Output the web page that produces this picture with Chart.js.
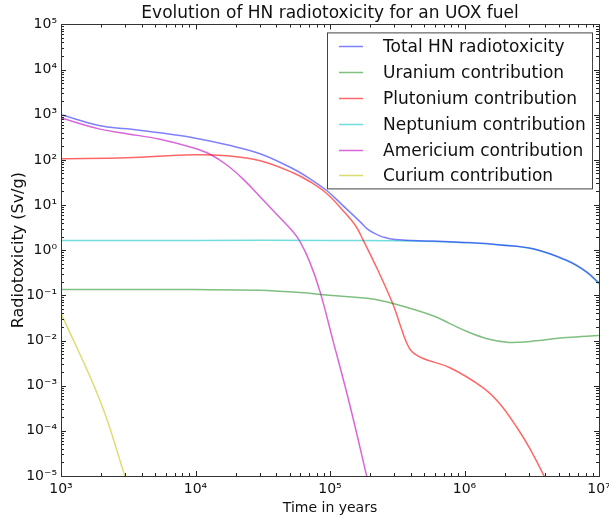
<!DOCTYPE html>
<html>
<head>
<meta charset="utf-8">
<title>Evolution of HN radiotoxicity for an UOX fuel</title>
<script src="https://cdn.jsdelivr.net/npm/chart.js@4.4.0/dist/chart.umd.min.js"></script>
<style>
  html, body { margin: 0; padding: 0; background: #fff; }
</style>
</head>
<body>
<canvas id="radiotox" width="609" height="517"></canvas>
<script>
// values: time in years, radiotoxicity in Sv/g
var totalYears = [1000, 1950, 3090, 5440, 9570, 17100, 30200, 53100, 71000, 94900, 125000, 167000, 188000, 216000, 249000, 303000, 583000, 1000000, 1850000, 3300000, 5800000, 8000000, 10000000];
var totalTox   = [1000, 569, 487, 398, 309, 216, 137, 63.5, 38, 20.7, 9.7, 4.3, 3.0, 2.32, 1.95, 1.72, 1.59, 1.49, 1.31, 1.06, 0.59, 0.34, 0.19];

var uraniumYears = [1000, 9570, 30200, 59900, 98400, 195000, 294000, 583000, 780000, 1045000, 1470000, 2070000, 2590000, 3230000, 5780000, 10000000];
var uraniumTox   = [0.135, 0.134, 0.13, 0.115, 0.1, 0.085, 0.066, 0.0355, 0.0237, 0.0158, 0.011, 0.0092, 0.0092, 0.0097, 0.0116, 0.0129];

var plutoniumYears = [1000, 3090, 9570, 17100, 30200, 53100, 71000, 94900, 125000, 155000, 176000, 228000, 293000, 330000, 368000, 406000, 492000, 779000, 1370000, 1830000, 2460000, 3070000, 3950000, 4310000];
var plutoniumTox   = [106, 111, 130, 123, 95.5, 51.9, 32.8, 17.8, 7.5, 3.47, 1.70, 0.35, 0.065, 0.0236, 0.0095, 0.0057, 0.004, 0.0025, 0.00091, 0.0004, 0.000117, 0.00004, 0.0000093, 0.0000048];

var neptuniumYears = [1000, 10000, 100000, 300000, 600000, 1000000, 1850000, 3300000, 5800000, 8000000, 10000000];
var neptuniumTox   = [1.65, 1.65, 1.65, 1.62, 1.55, 1.47, 1.3, 1.05, 0.58, 0.33, 0.18];

var americiumYears = [1000, 1950, 3090, 5440, 9570, 12800, 17100, 22500, 30200, 40400, 53100, 59900, 71000, 84300, 105300, 140800, 188400, 198000];
var americiumTox   = [850, 480, 380, 286, 185, 133, 77, 38, 15.3, 6.1, 2.56, 1.54, 0.53, 0.121, 0.00995, 0.00036, 0.0000093, 0.0000048];

var curiumYears = [1000, 1950, 3000, 3200];
var curiumTox   = [0.04, 0.00047, 0.0000095, 0.000005];

var seriesNames  = ["Total HN radiotoxicity", "Uranium contribution", "Plutonium contribution", "Neptunium contribution", "Americium contribution", "Curium contribution"];
var seriesColors = ["rgba(0,0,255,0.5)", "rgba(0,128,0,0.5)", "rgba(255,0,0,0.6)", "rgba(0,191,191,0.55)", "rgba(191,0,191,0.6)", "rgba(191,191,0,0.55)"];

var xDecades = [1e3, 1e4, 1e5, 1e6, 1e7];
var yDecades = [1e-5, 1e-4, 1e-3, 1e-2, 1e-1, 1e0, 1e1, 1e2, 1e3, 1e4, 1e5];

function toPoints(xs, ys) {
    var pts = [];
    for (var i = 0; i < xs.length; i++) {
        pts.push({x: xs[i], y: ys[i]});
    }
    return pts;
}

var supDigits = {"0":"⁰","1":"¹","2":"²","3":"³","4":"⁴","5":"⁵","6":"⁶","7":"⁷","8":"⁸","9":"⁹","-":"⁻"};
function powLabel(v) {
    var e = String(Math.round(Math.log10(v)));
    var s = "";
    for (var i = 0; i < e.length; i++) s += supDigits[e[i]];
    return "10" + s;
}

// frame, inward minor/major ticks on all four sides, and the boxed legend
var frameLegend = {
    id: 'frameLegend',
    afterDatasetsDraw: function(chart) {
        var ctx = chart.ctx, a = chart.chartArea;
        var xs = chart.scales.x, ys = chart.scales.y;
        ctx.save();
        ctx.strokeStyle = '#222';
        ctx.lineWidth = 1;
        ctx.beginPath();
        for (var e = 3; e <= 7; e++) {
            for (var m = 1; m < 10; m++) {
                var v = m * Math.pow(10, e);
                if (v > 1e7) break;
                var p = Math.round(xs.getPixelForValue(v)) + 0.5;
                var len = m == 1 ? 5 : 3;
                ctx.moveTo(p, a.bottom); ctx.lineTo(p, a.bottom - len);
                ctx.moveTo(p, a.top); ctx.lineTo(p, a.top + len);
            }
        }
        for (var e2 = -5; e2 <= 5; e2++) {
            for (var m2 = 1; m2 < 10; m2++) {
                var v2 = m2 * Math.pow(10, e2);
                if (v2 > 1e5) break;
                var q = Math.round(ys.getPixelForValue(v2)) + 0.5;
                var len2 = m2 == 1 ? 5 : 3;
                ctx.moveTo(a.left, q); ctx.lineTo(a.left + len2, q);
                ctx.moveTo(a.right, q); ctx.lineTo(a.right - len2, q);
            }
        }
        ctx.stroke();
        ctx.strokeStyle = '#333';
        ctx.strokeRect(Math.round(a.left) + 0.5, Math.round(a.top) + 0.5, Math.round(a.right - a.left), Math.round(a.bottom - a.top));

        // legend box in the upper right
        var bx = a.right - 272, by = a.top + 8, bw = 265, bh = 156;
        ctx.fillStyle = '#fff';
        ctx.fillRect(bx, by, bw, bh);
        ctx.strokeStyle = '#444';
        ctx.strokeRect(bx + 0.5, by + 0.5, bw, bh);
        ctx.font = '17px "DejaVu Sans"';
        ctx.textBaseline = 'middle';
        ctx.textAlign = 'left';
        chart.data.datasets.forEach(function(ds, i) {
            var ry = Math.round(by + 14 + 25.8 * i) + 0.5;
            ctx.strokeStyle = ds.borderColor;
            ctx.lineWidth = 1.5;
            ctx.beginPath();
            ctx.moveTo(bx + 12, ry);
            ctx.lineTo(bx + 36, ry);
            ctx.stroke();
            ctx.fillStyle = '#111';
            ctx.fillText(ds.label, bx + 56, ry + 1);
        });
        ctx.restore();
    }
};

var ctx = document.getElementById("radiotox").getContext('2d');
var allYears = [totalYears, uraniumYears, plutoniumYears, neptuniumYears, americiumYears, curiumYears];
var allTox = [totalTox, uraniumTox, plutoniumTox, neptuniumTox, americiumTox, curiumTox];

var chart = new Chart(ctx, {
    type: 'line',
    data: {
        datasets: seriesNames.map(function(name, i) {
            return {
                label: name,
                data: toPoints(allYears[i], allTox[i]),
                borderColor: seriesColors[i],
                backgroundColor: seriesColors[i],
                borderWidth: 1.5,
                pointRadius: 0,
                fill: false,
                tension: 0.4
            };
        })
    },
    plugins: [frameLegend],
    options: {
        responsive: false,
        animation: false,
        layout: { padding: { left: 0, right: 10, top: 0, bottom: 0 } },
        plugins: {
            legend: { display: false },
            tooltip: { enabled: false },
            title: {
                display: true,
                fullSize: false,
                text: 'Evolution of HN radiotoxicity for an UOX fuel',
                color: '#111',
                font: { family: 'DejaVu Sans', size: 17, weight: 'normal', lineHeight: 1.2 },
                padding: { top: 3, bottom: 1 }
            }
        },
        scales: {
            x: {
                type: 'logarithmic',
                min: 1e3,
                max: 1e7,
                grid: { display: false, drawTicks: false },
                border: { display: false },
                afterBuildTicks: function(scale) {
                    scale.ticks = xDecades.map(function(v) { return {value: v}; });
                },
                afterFit: function(scale) {
                    scale.height = 41;
                    scale.paddingLeft = 0;
                    scale.paddingRight = 0;
                },
                ticks: {
                    autoSkip: false,
                    maxRotation: 0,
                    padding: 5,
                    color: '#111',
                    font: { family: 'DejaVu Sans', size: 14 },
                    callback: function(v) { return powLabel(v); }
                },
                title: {
                    display: true,
                    text: 'Time in years',
                    color: '#111',
                    font: { family: 'DejaVu Sans', size: 14 },
                    padding: { top: 0, bottom: 0 }
                }
            },
            y: {
                type: 'logarithmic',
                min: 1e-5,
                max: 1e5,
                grid: { display: false, drawTicks: false },
                border: { display: false },
                afterBuildTicks: function(scale) {
                    scale.ticks = yDecades.map(function(v) { return {value: v}; });
                },
                afterFit: function(scale) {
                    scale.width = 61;
                    scale.paddingTop = 0;
                    scale.paddingBottom = 0;
                },
                ticks: {
                    autoSkip: false,
                    padding: 4,
                    color: '#111',
                    font: { family: 'DejaVu Sans', size: 14 },
                    callback: function(v) { return powLabel(v); }
                },
                title: {
                    display: true,
                    text: 'Radiotoxicity (Sv/g)',
                    color: '#111',
                    font: { family: 'DejaVu Sans', size: 16 },
                    padding: { top: 9, bottom: 0 }
                }
            }
        }
    }
});
</script>
</body>
</html>
